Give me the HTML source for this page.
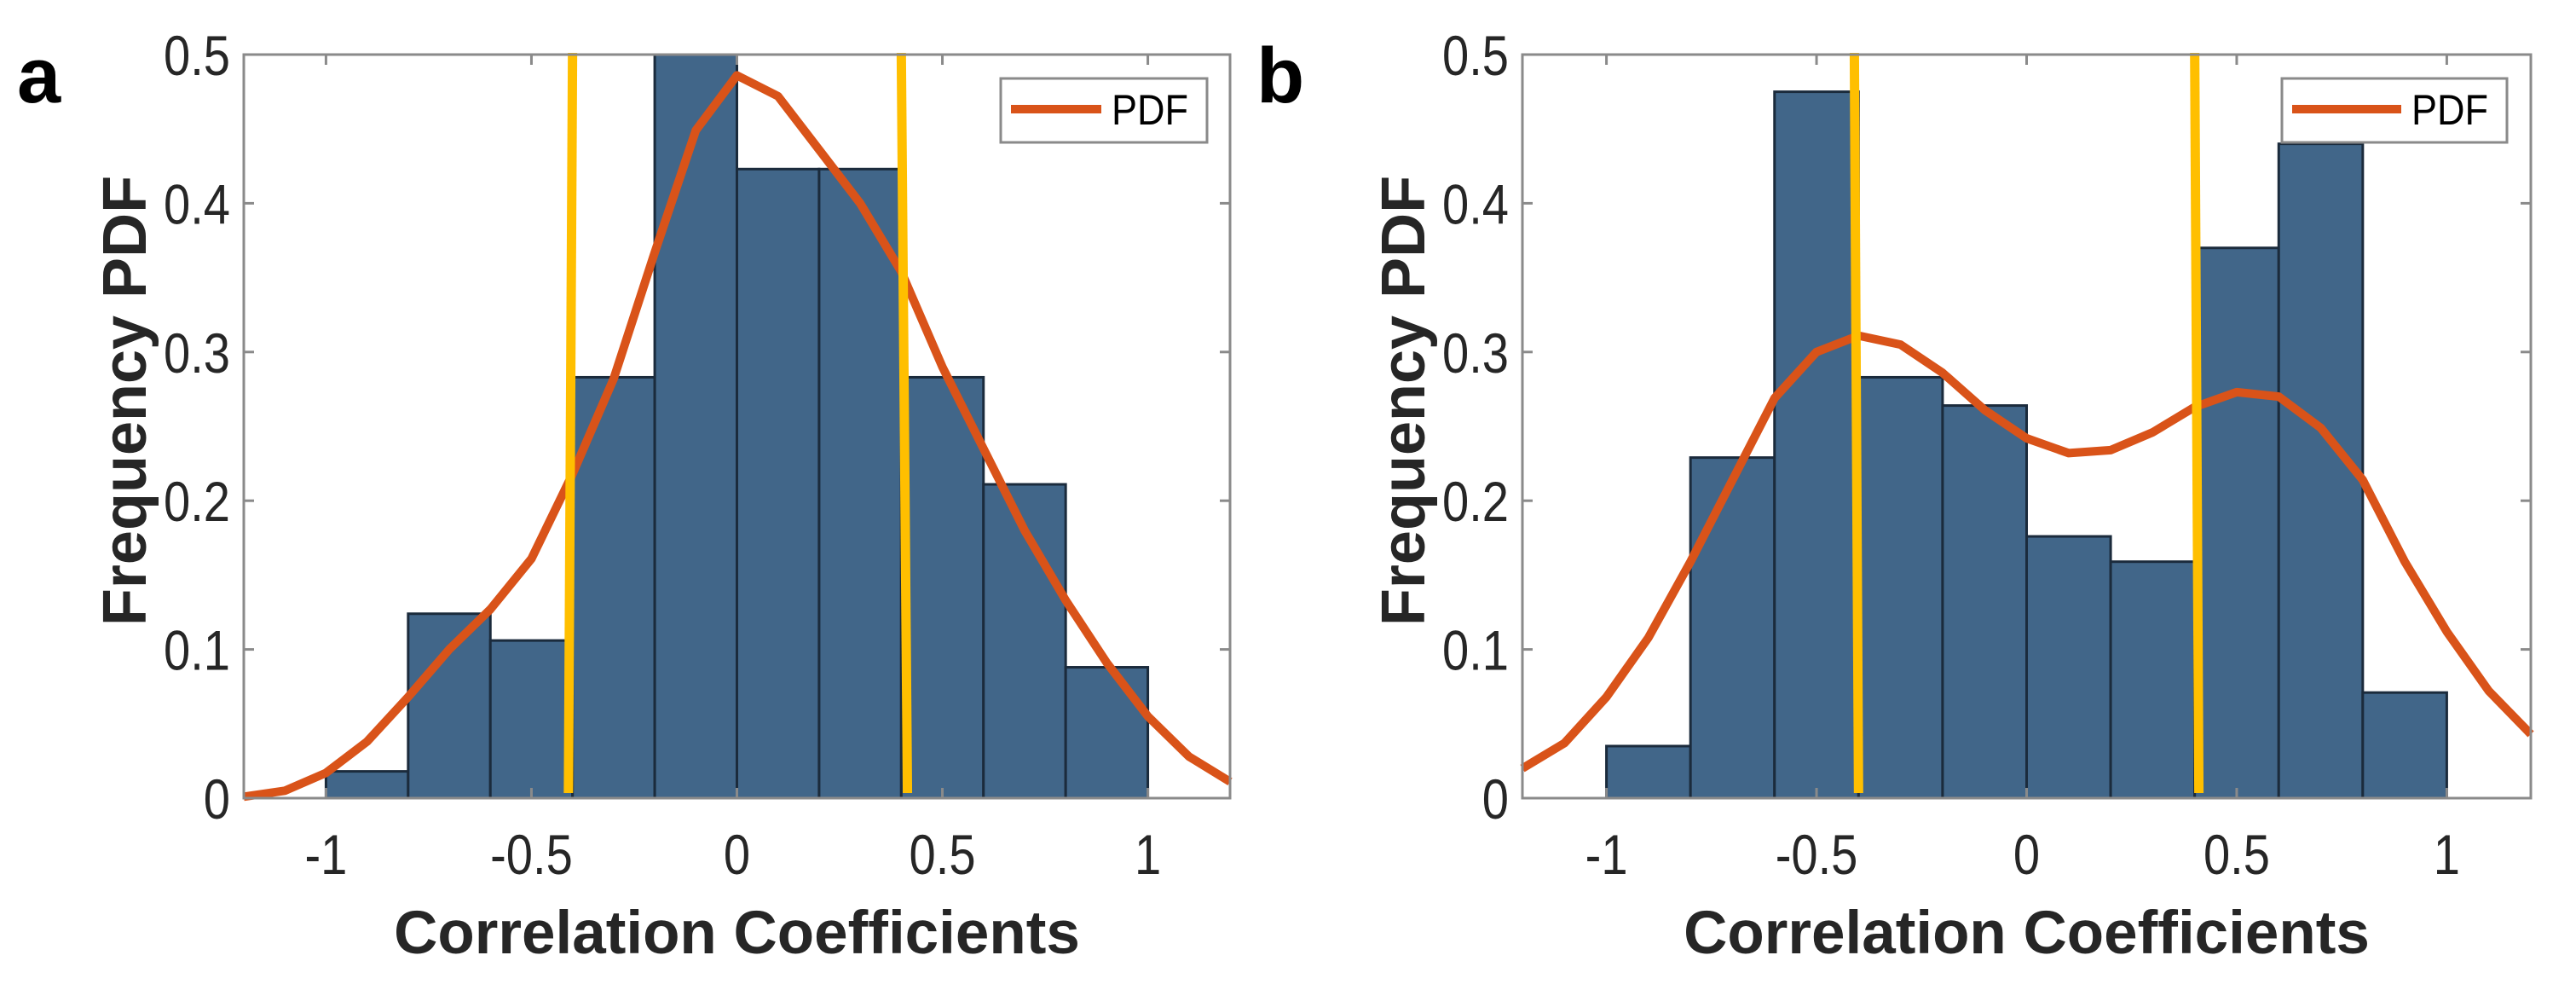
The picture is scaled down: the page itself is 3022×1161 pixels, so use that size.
<!DOCTYPE html>
<html><head><meta charset="utf-8">
<style>
html,body{margin:0;padding:0;background:#fff;}
svg{display:block;}
text{font-family:"Liberation Sans",sans-serif;}
</style></head>
<body>
<svg id="fig" width="3022" height="1161" viewBox="0 0 3022 1161" xmlns="http://www.w3.org/2000/svg"></svg>
<script>
const binEdges = [-1,-0.8,-0.6,-0.4,-0.2,0,0.2,0.4,0.6,0.8,1];
const pdfX = [-1.2,-1.1,-1.0,-0.9,-0.8,-0.7,-0.6,-0.5,-0.4,-0.3,-0.2,-0.1,0,0.1,0.2,0.3,0.4,0.5,0.6,0.7,0.8,0.9,1.0,1.1,1.2];
const barsA = [0.018,0.124,0.106,0.283,0.5,0.423,0.423,0.283,0.211,0.088];
const pdfA = [0.001,0.005,0.017,0.038,0.068,0.1,0.127,0.161,0.218,0.282,0.367,0.449,0.486,0.472,0.436,0.4,0.354,0.29,0.235,0.18,0.133,0.091,0.055,0.028,0.011];
const barsB = [0.035,0.229,0.475,0.283,0.264,0.176,0.159,0.37,0.44,0.071];
const pdfB = [0.02,0.037,0.068,0.108,0.159,0.214,0.269,0.3,0.311,0.305,0.286,0.261,0.242,0.232,0.234,0.246,0.263,0.273,0.27,0.249,0.214,0.159,0.112,0.072,0.043];
const yellowA = [[-0.4,-0.41],[0.4,0.415]];
const yellowB = [[-0.41,-0.4],[0.4,0.41]];
const xTicks = [-1,-0.5,0,0.5,1];
const xTickLabels = ["-1","-0.5","0","0.5","1"];
const yTicks = [0,0.1,0.2,0.3,0.4,0.5];
const yTickLabels = ["0","0.1","0.2","0.3","0.4","0.5"];

const NS="http://www.w3.org/2000/svg";
const svg=document.getElementById('fig');
function mk(tag,attrs,parent){const e=document.createElementNS(NS,tag);for(const k in attrs)e.setAttribute(k,attrs[k]);(parent||svg).appendChild(e);return e;}

function panel(id,L,R,bars,pdf,yel,label,labelX,legL,legR){
  const T=64,B=936;
  const g=mk('g',{});
  
  
  const sx=v=>L+(v+1.2)/2.4*(R-L);
  const sy=v=>B-(v/0.5)*(B-T);
  const cg=mk('g',{},g);
  
  
  for(let i=0;i<bars.length;i++){
    const x0=sx(binEdges[i]),x1=sx(binEdges[i+1]),y=Math.max(sy(bars[i]),T);
    const r=mk('rect',{x:x0,y:y,width:x1-x0,height:B-y,fill:'#416689',stroke:'#1b2b3c','stroke-width':3},cg);
    
    
  }
  const pts=pdf.map((v,i)=>sx(pdfX[i]).toFixed(1)+','+sy(v).toFixed(1)).join(' ');
  const pl=mk('polyline',{points:pts,fill:'none',stroke:'#d95319','stroke-width':10,'stroke-linejoin':'round'},g);
  
  
  yel.forEach((p,i)=>{
    const ln=mk('line',{x1:sx(p[0]),y1:T-2,x2:sx(p[1]),y2:B-6,stroke:'#ffbf00','stroke-width':11},g);
    
    
  });
  const ax=mk('g',{},g);
  
  
  mk('rect',{x:L,y:T,width:R-L,height:B-T,fill:'none',stroke:'#8a8a8a','stroke-width':3},ax);
  xTicks.forEach((v,i)=>{
    const x=sx(v);
    mk('line',{x1:x,y1:B,x2:x,y2:B-12,stroke:'#8a8a8a','stroke-width':3},ax);
    mk('line',{x1:x,y1:T,x2:x,y2:T+12,stroke:'#8a8a8a','stroke-width':3},ax);
    const t=mk('text',{x:x,y:1025,'font-size':66,fill:'#262626','text-anchor':'middle',transform:`translate(${x},0) scale(0.85,1) translate(${-x},0)`},ax);
    t.textContent=xTickLabels[i];
    
    
  });
  yTicks.forEach((v,i)=>{
    const y=sy(v);
    mk('line',{x1:L,y1:y,x2:L+12,y2:y,stroke:'#8a8a8a','stroke-width':3},ax);
    mk('line',{x1:R,y1:y,x2:R-12,y2:y,stroke:'#8a8a8a','stroke-width':3},ax);
    const tx=L-16;
    const t=mk('text',{x:tx,y:y+24,'font-size':66,fill:'#262626','text-anchor':'end',transform:`translate(${tx},0) scale(0.85,1) translate(${-tx},0)`},ax);
    t.textContent=yTickLabels[i];
    
    
  });
  const xt=mk('text',{x:(L+R)/2,y:1118,'font-size':71,'font-weight':'bold',fill:'#262626','text-anchor':'middle'},g);
  xt.textContent='Correlation Coefficients';
  
  
  const yx=L-140;
  const yt=mk('text',{x:yx,y:470,'font-size':72,'font-weight':'bold',fill:'#262626','text-anchor':'middle',transform:`rotate(-90 ${yx} 470) translate(0,25)`},g);
  yt.textContent='Frequency PDF';
  
  
  const lg=mk('g',{},g);
  
  
  mk('rect',{x:legL,y:92,width:legR-legL,height:75,fill:'#fff',stroke:'#8a8a8a','stroke-width':3},lg);
  mk('line',{x1:legL+12,y1:128,x2:legR-124,y2:128,stroke:'#d95319','stroke-width':10},lg);
  const lt=mk('text',{x:legR-112,y:146,'font-size':50,fill:'#000',transform:`translate(${legR-112},0) scale(0.9,1) translate(${-(legR-112)},0)`},lg);
  lt.textContent='PDF';
  
  
  const pl2=mk('text',{x:labelX,y:120,'font-size':92,'font-weight':'bold',fill:'#000'},g);
  pl2.textContent=label;
  
  
}
panel('a',286,1443,barsA,pdfA,yellowA,'a',20,1174,1416);
panel('b',1786,2969,barsB,pdfB,yellowB,'b',1474,2677,2941);
</script>
</body></html>
